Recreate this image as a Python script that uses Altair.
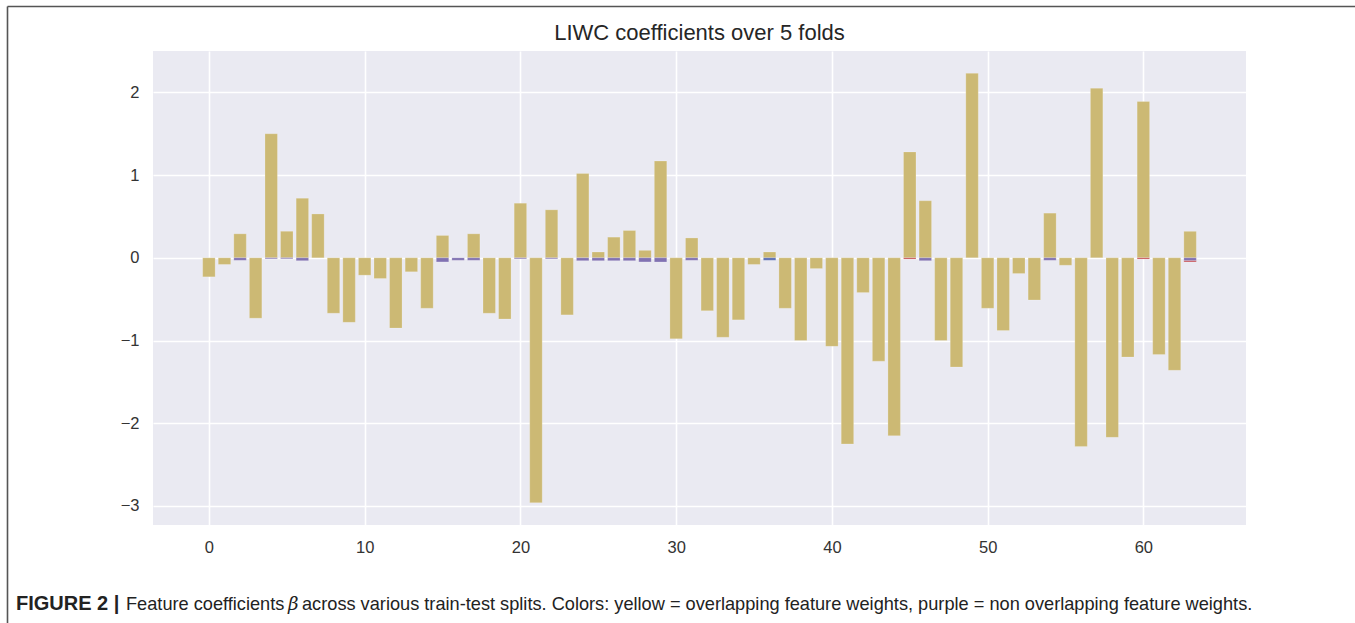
import altair as alt
import pandas as pd

# Mean LIWC coefficient per feature (features 0..63)
features = list(range(64))
coefficients = [
    -0.23, -0.08, 0.29, -0.73, 1.50, 0.32, 0.72, 0.53, -0.67, -0.78,
    -0.21, -0.25, -0.85, -0.17, -0.61, 0.27, 0.00, 0.29, -0.67, -0.74,
    0.66, -2.96, 0.58, -0.69, 1.02, 0.07, 0.25, 0.33, 0.09, 1.17,
    -0.98, 0.24, -0.64, -0.96, -0.75, -0.08, 0.07, -0.61, -1.00, -0.13,
    -1.07, -2.25, -0.42, -1.25, -2.15, 1.28, 0.69, -1.00, -1.32, 2.23,
    -0.61, -0.88, -0.19, -0.51, 0.54, -0.09, -2.28, 2.05, -2.17, -1.20,
    1.89, -1.17, -1.36, 0.32,
]

# Weights that only appear in some folds (non overlapping): feature, low end
purple_features = [2, 4, 5, 6, 15, 16, 17, 20, 22, 24, 25, 26, 27, 28, 29, 31, 46, 54, 63]
purple_depths = [-0.03, -0.012, -0.012, -0.035, -0.05, -0.03, -0.03, -0.012, -0.012, -0.035,
                 -0.035, -0.035, -0.035, -0.05, -0.05, -0.03, -0.035, -0.03, -0.035]
blue_features = [36]
blue_depths = [-0.03]
red_features = [45, 60, 63]
red_tops = [0.0, 0.0, -0.035]
red_bottoms = [-0.015, -0.015, -0.05]

rows = []
for f, c in zip(features, coefficients):
    rows.append({"f0": f - 0.4, "f1": f + 0.4, "lo": 0.0, "hi": c, "kind": "overlap"})
for f, d in zip(purple_features, purple_depths):
    rows.append({"f0": f - 0.4, "f1": f + 0.4, "lo": 0.0, "hi": d, "kind": "non overlap"})
for f, d in zip(blue_features, blue_depths):
    rows.append({"f0": f - 0.4, "f1": f + 0.4, "lo": 0.0, "hi": d, "kind": "fold blue"})
for f, t, b in zip(red_features, red_tops, red_bottoms):
    rows.append({"f0": f - 0.4, "f1": f + 0.4, "lo": t, "hi": b, "kind": "fold red"})
bars_df = pd.DataFrame(rows)

W, H = 1093, 474
PAD_L, PAD_T = 153, 51

x_scale = alt.Scale(domain=[-3.59, 66.59], nice=False, zero=False)
y_scale = alt.Scale(domain=[-3.23, 2.50], nice=False, zero=False)

bars = alt.Chart(bars_df).mark_rect(strokeWidth=0.8, stroke="#FFFFFF", strokeOpacity=0.25).encode(
    x=alt.X("f0:Q", scale=x_scale,
            axis=alt.Axis(values=[0, 10, 20, 30, 40, 50, 60], title=None, grid=True,
                          gridColor="#FFFFFF", gridWidth=1.6, domain=False, ticks=False,
                          labelFontSize=16.5, labelFont="Liberation Sans", labelColor="#333333",
                          labelPadding=14)),
    x2="f1:Q",
    y=alt.Y("lo:Q", scale=y_scale,
            axis=alt.Axis(values=[-3, -2, -1, 0, 1, 2], title=None, grid=True,
                          gridColor="#FFFFFF", gridWidth=1.6, domain=False, ticks=False,
                          labelFontSize=16.5, labelFont="Liberation Sans", labelColor="#333333",
                          labelPadding=14)),
    y2="hi:Q",
    color=alt.Color("kind:N", legend=None,
                    scale=alt.Scale(domain=["overlap", "non overlap", "fold blue", "fold red"],
                                    range=["#CCB974", "#8172B2", "#5C6FB4", "#C44E52"])),
)

title_txt = alt.Chart(pd.DataFrame({"t": ["LIWC coefficients over 5 folds"]})).mark_text(
    fontSize=22, font="Liberation Sans", color="#262626", align="center", baseline="alphabetic"
).encode(x=alt.value(W / 2), y=alt.value(-11), text="t:N")

cap_y = 559
cap_font = "Liberation Sans"
cap_size = 18.2
cap_color = "#222222"
cap_bold = alt.Chart(pd.DataFrame({"t": ["FIGURE 2 |"]})).mark_text(
    fontSize=20, font=cap_font, fontWeight="bold", color=cap_color, align="left", baseline="alphabetic"
).encode(x=alt.value(16 - PAD_L), y=alt.value(cap_y), text="t:N")
cap_a = alt.Chart(pd.DataFrame({"t": ["Feature coefficients"]})).mark_text(
    fontSize=cap_size, font=cap_font, color=cap_color, align="left", baseline="alphabetic"
).encode(x=alt.value(126 - PAD_L), y=alt.value(cap_y), text="t:N")
cap_beta = alt.Chart(pd.DataFrame({"t": ["β"]})).mark_text(
    fontSize=cap_size, font="DejaVu Serif", fontStyle="italic", color=cap_color, align="left", baseline="alphabetic"
).encode(x=alt.value(288 - PAD_L), y=alt.value(cap_y), text="t:N")
cap_b = alt.Chart(pd.DataFrame({"t": [
    "across various train-test splits. Colors: yellow = overlapping feature weights, purple = non overlapping feature weights."
]})).mark_text(
    fontSize=cap_size, font=cap_font, color=cap_color, align="left", baseline="alphabetic"
).encode(x=alt.value(302 - PAD_L), y=alt.value(cap_y), text="t:N")

frame_top = alt.Chart(pd.DataFrame({"k": [0]})).mark_rule(color="#555555", strokeWidth=1.6).encode(
    x=alt.value(7.5 - PAD_L), x2=alt.value(1355 - PAD_L), y=alt.value(6.5 - PAD_T))
frame_left = alt.Chart(pd.DataFrame({"k": [0]})).mark_rule(color="#555555", strokeWidth=1.6).encode(
    x=alt.value(7.5 - PAD_L), y=alt.value(6.5 - PAD_T), y2=alt.value(623 - PAD_T))

chart = alt.layer(bars, title_txt, cap_bold, cap_a, cap_beta, cap_b, frame_top, frame_left).properties(
    width=W, height=H,
    autosize=alt.AutoSizeParams(type="none"),
    padding={"left": PAD_L, "top": PAD_T, "right": 1355 - PAD_L - W, "bottom": 623 - PAD_T - H},
    background="#FFFFFF",
).configure_view(fill="#EAEAF2", strokeWidth=0)

chart.save("out.html", embed_options={"renderer": "svg", "actions": False})
